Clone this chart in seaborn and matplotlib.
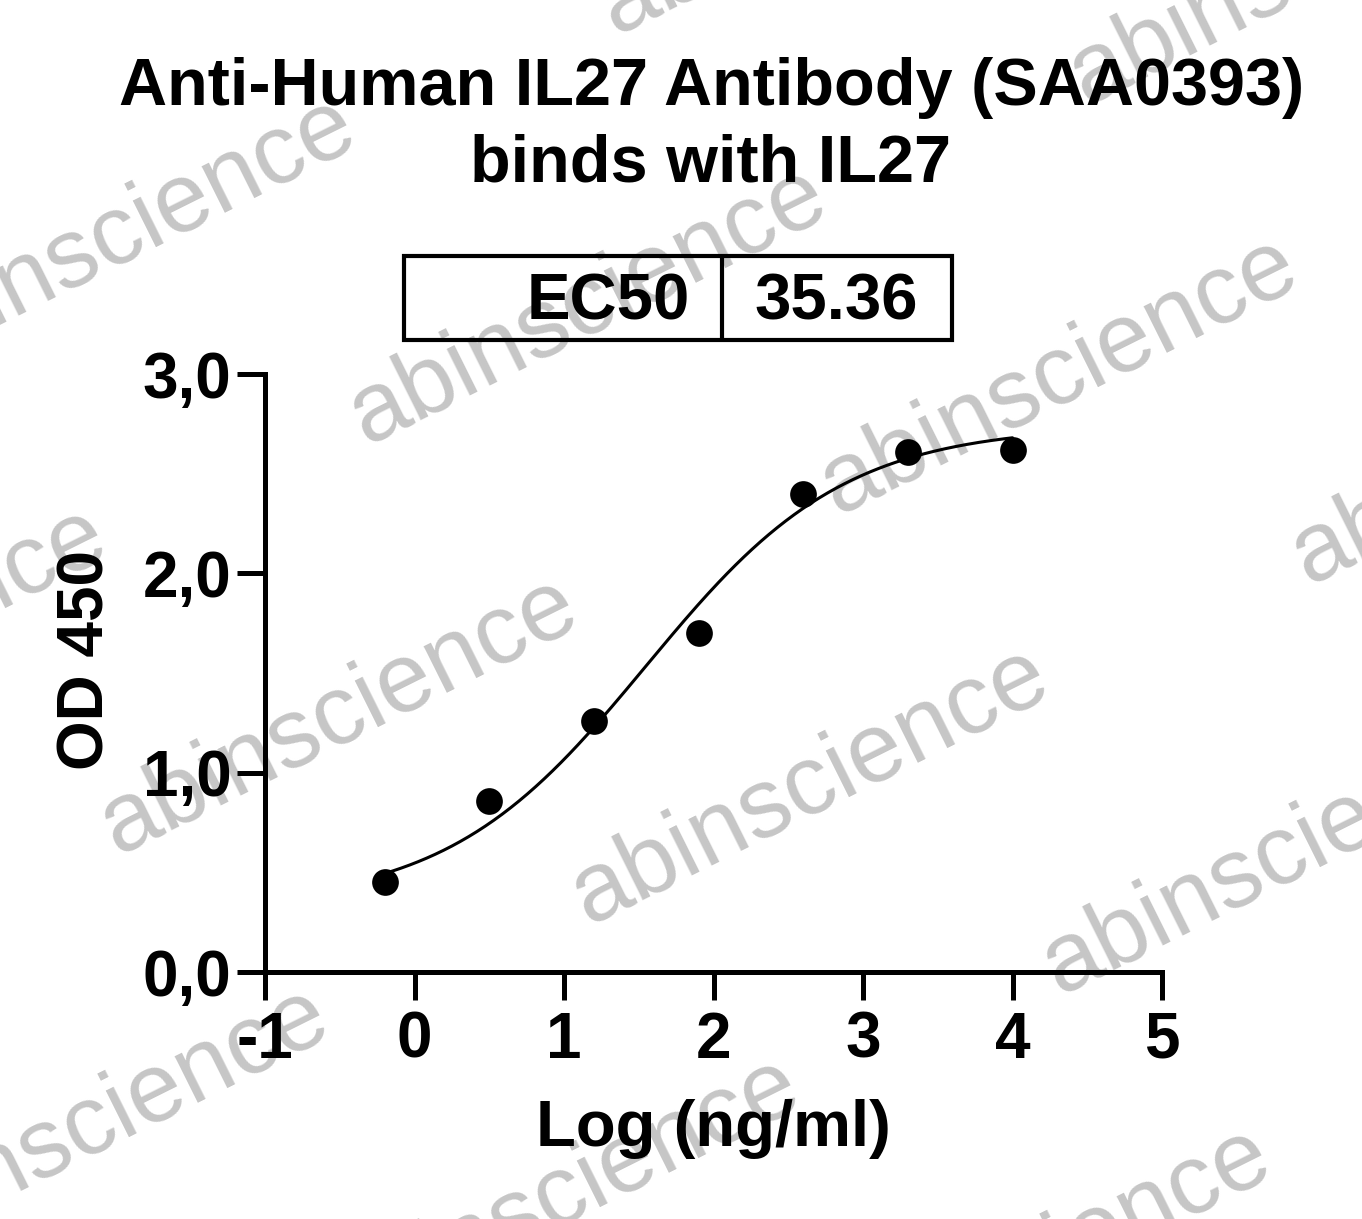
import numpy as np
import matplotlib
matplotlib.use("Agg")
import matplotlib.pyplot as plt
from matplotlib.patches import Rectangle
from matplotlib.lines import Line2D
import seaborn as sns

# measured points
log_conc = [-0.2, 0.5, 1.2, 1.9, 2.6, 3.3, 4.0]
od450 = [0.45, 0.86, 1.26, 1.70, 2.40, 2.61, 2.62]

# 4PL fit, EC50 in ng/ml
fit_bottom = 0.33
fit_top = 2.74
fit_hill = 0.65
ec50_label = "EC50"
ec50 = 35.36

x_ticks = [-1, 0, 1, 2, 3, 4, 5]
y_ticks = [0.0, 1.0, 2.0, 3.0]
y_tick_labels = ["0,0", "1,0", "2,0", "3,0"]
title_lines = ["Anti-Human IL27 Antibody (SAA0393)", "binds with IL27"]
watermark = "abinscience"

sns.set_style("ticks")
plt.rcParams["font.family"] = ["Liberation Sans", "DejaVu Sans"]
plt.rcParams["font.weight"] = "bold"
for k in ["text.color", "axes.labelcolor", "xtick.color", "ytick.color", "axes.edgecolor"]:
    plt.rcParams[k] = "black"

W, H = 1362, 1219
fig = plt.figure(figsize=(W / 100, H / 100), dpi=100)
fig.patch.set_facecolor("white")

def fx(px):
    return px / W

def fy(py):
    return 1 - py / H

# watermark grid, behind everything
for i in range(-2, 3):
    for j in range(-2, 3):
        cx = 588 + 471 * i - 249 * j
        cy = 306 + 70 * i + 410 * j
        fig.text(fx(cx), fy(cy), watermark, ha="center", va="center",
                 rotation=26.5, rotation_mode="anchor", fontsize=71,
                 fontweight="normal", color="#c6c6c6", zorder=-5)

ax = fig.add_axes([fx(265), fy(972), (1162 - 265) / W, (972 - 374) / H])
ax.set_facecolor("none")

curve_x = np.linspace(min(log_conc), max(log_conc), 300)
curve_y = fit_bottom + (fit_top - fit_bottom) / (1 + 10 ** ((np.log10(ec50) - curve_x) * fit_hill))
sns.lineplot(x=curve_x, y=curve_y, color="black", linewidth=2.2, ax=ax)
sns.scatterplot(x=log_conc, y=od450, s=370, color="black", edgecolor="black",
                linewidth=0, ax=ax, zorder=4)

ax.set_xlim(-1, 5)
ax.set_ylim(0, 3)
ax.set_xticks(x_ticks)
ax.set_xticklabels([str(t) for t in x_ticks], fontsize=46, fontweight="bold")
ax.set_yticks(y_ticks)
ax.set_yticklabels(y_tick_labels, fontsize=46, fontweight="bold")
sns.despine(ax=ax)
for s in ["left", "bottom"]:
    ax.spines[s].set_linewidth(3.6)
ax.tick_params(axis="both", length=20, width=3.6, color="black")
ax.tick_params(axis="x", pad=8)
ax.tick_params(axis="y", pad=4)

ax.set_xlabel("Log (ng/ml)", fontsize=47, fontweight="bold")
ax.set_ylabel("OD 450", fontsize=46, fontweight="bold")
ax.xaxis.set_label_coords(0.5, -0.213)
ax.yaxis.set_label_coords(-0.165, 0.522)

fig.text(fx(712), fy(105), title_lines[0], ha="center", va="baseline",
         fontsize=48, fontweight="bold")
fig.text(fx(710), fy(181), title_lines[1], ha="center", va="baseline",
         fontsize=48, fontweight="bold")

# EC50 box
box = Rectangle((fx(404), fy(340)), fx(952) - fx(404), fy(256) - fy(340),
                transform=fig.transFigure, fill=False, edgecolor="black", linewidth=3)
fig.patches.append(box)
fig.lines.append(Line2D([fx(722), fx(722)], [fy(340), fy(256)],
                        transform=fig.transFigure, color="black", linewidth=3))
fig.text(fx(690), fy(319), ec50_label, ha="right", va="baseline",
         fontsize=47, fontweight="bold")
fig.text(fx(836), fy(319), f"{ec50:.2f}", ha="center", va="baseline",
         fontsize=47, fontweight="bold")

fig.savefig("out.png", dpi=100)
